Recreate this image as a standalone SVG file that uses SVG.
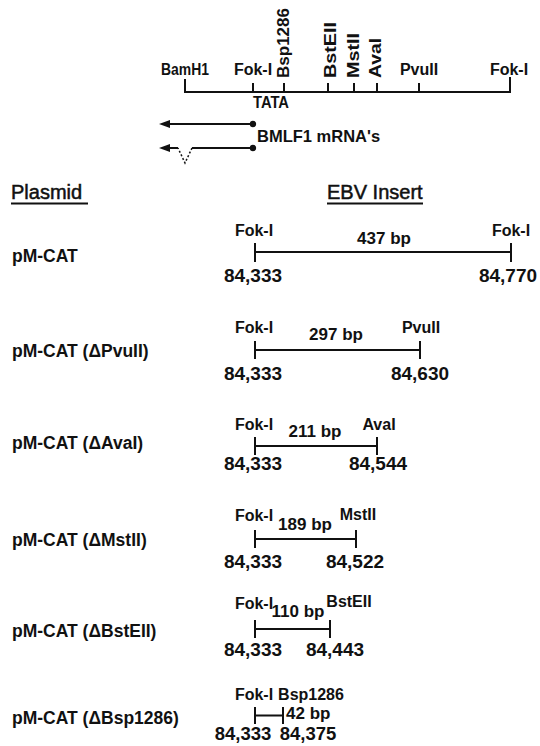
<svg xmlns="http://www.w3.org/2000/svg" width="540" height="746" viewBox="0 0 540 746">
<style>
text{font-family:"Liberation Sans","DejaVu Sans",sans-serif;font-weight:bold;fill:#111;font-size:16px}
.c{text-anchor:middle}
.ln{stroke:#111;stroke-width:2;fill:none}
.hd{font-size:20px;font-weight:normal;stroke:#111;stroke-width:0.5}
.pl{font-size:17.5px}
.n{font-size:19px}
.bp{font-size:17px}
</style>
<rect width="540" height="746" fill="#fff"/>
<g id="map">
<path class="ln" d="M185,79V92H510V77M253,83V92M284,83V92M328,83V92M354,83V92M377,83V92M419,83V92"/>
<text class="c" x="185" y="75" textLength="48" lengthAdjust="spacingAndGlyphs">BamH1</text>
<text class="c" x="253" y="75">Fok-I</text>
<text class="c" x="419" y="75">PvuII</text>
<text class="c" x="509" y="75">Fok-I</text>
<text transform="translate(289,78) rotate(-90)" textLength="70" lengthAdjust="spacingAndGlyphs">Bsp1286</text>
<text transform="translate(336,78) rotate(-90)" textLength="56" lengthAdjust="spacingAndGlyphs">BstEII</text>
<text transform="translate(359,78) rotate(-90)" textLength="45" lengthAdjust="spacingAndGlyphs">MstII</text>
<text transform="translate(381,78) rotate(-90)" textLength="40" lengthAdjust="spacingAndGlyphs">AvaI</text>
<text class="c" x="271" y="108" textLength="36" lengthAdjust="spacingAndGlyphs">TATA</text>
</g>
<g id="mrna">
<path class="ln" d="M253,124H166"/>
<path d="M159,124L170,120V128Z" fill="#111"/>
<circle cx="253" cy="124" r="3.2" fill="#111"/>
<path class="ln" d="M253,148H192"/>
<path d="M192,148L185,163L178,148" fill="none" stroke="#111" stroke-width="1.5" stroke-dasharray="2,2"/>
<path class="ln" d="M178,148H166"/>
<path d="M159,148L170,144V152Z" fill="#111"/>
<circle cx="253" cy="148" r="3.2" fill="#111"/>
<text x="257" y="142" style="font-size:16.5px">BMLF1 mRNA's</text>
</g>
<g id="headers">
<text class="hd" x="11" y="199">Plasmid</text>
<path class="ln" d="M11,203.5H88M327,203.5H423"/>
<text class="hd" x="327" y="199">EBV Insert</text>
</g>
<g id="r1">
<text class="pl" x="12" y="262">pM-CAT</text>
<path class="ln" d="M255,243V262M255,252H511M511,243V262"/>
<text class="c" x="254" y="236">Fok-I</text>
<text class="c bp" x="384" y="244">437 bp</text>
<text class="c" x="511" y="236">Fok-I</text>
<text class="c n" x="253" y="282">84,333</text>
<text class="c n" x="508" y="282">84,770</text>
</g>
<g id="r2">
<text class="pl" x="12" y="357">pM-CAT (ΔPvuII)</text>
<path class="ln" d="M255,341V359M255,350H420M420,341V359"/>
<text class="c" x="254" y="333">Fok-I</text>
<text class="c bp" x="336" y="340">297 bp</text>
<text class="c" x="421" y="333">PvuII</text>
<text class="c n" x="253" y="380">84,333</text>
<text class="c n" x="420" y="380">84,630</text>
</g>
<g id="r3">
<text class="pl" x="12" y="449">pM-CAT (ΔAvaI)</text>
<path class="ln" d="M255,437V455M255,446H377M377,437V455"/>
<text class="c" x="254" y="430">Fok-I</text>
<text class="c bp" x="315" y="437">211 bp</text>
<text class="c" x="379" y="430">AvaI</text>
<text class="c n" x="253" y="470">84,333</text>
<text class="c n" x="378" y="470">84,544</text>
</g>
<g id="r4">
<text class="pl" x="12" y="546">pM-CAT (ΔMstII)</text>
<path class="ln" d="M255,530V548M255,539H356M356,530V548"/>
<text class="c" x="254" y="521">Fok-I</text>
<text class="c bp" x="305" y="530">189 bp</text>
<text class="c" x="358" y="520">MstII</text>
<text class="c n" x="253" y="568">84,333</text>
<text class="c n" x="355" y="568">84,522</text>
</g>
<g id="r5">
<text class="pl" x="12" y="637">pM-CAT (ΔBstEII)</text>
<path class="ln" d="M255,620V638M255,629H330M330,620V638"/>
<text class="c" x="254" y="609">Fok-I</text>
<text class="c bp" x="298" y="617">110 bp</text>
<text class="c" x="349" y="607">BstEII</text>
<text class="c n" x="253" y="656">84,333</text>
<text class="c n" x="335" y="656">84,443</text>
</g>
<g id="r6">
<text class="pl" x="12" y="724">pM-CAT (ΔBsp1286)</text>
<path class="ln" d="M255,707V724M255,715.5H283M283,707V724"/>
<text class="c" x="254" y="700">Fok-I</text>
<text class="c" x="311" y="700">Bsp1286</text>
<text class="bp" x="286" y="719">42 bp</text>
<text class="c n" x="243" y="740" style="font-size:18.5px">84,333</text>
<text class="c n" x="308" y="740" style="font-size:18.5px">84,375</text>
</g>
</svg>
